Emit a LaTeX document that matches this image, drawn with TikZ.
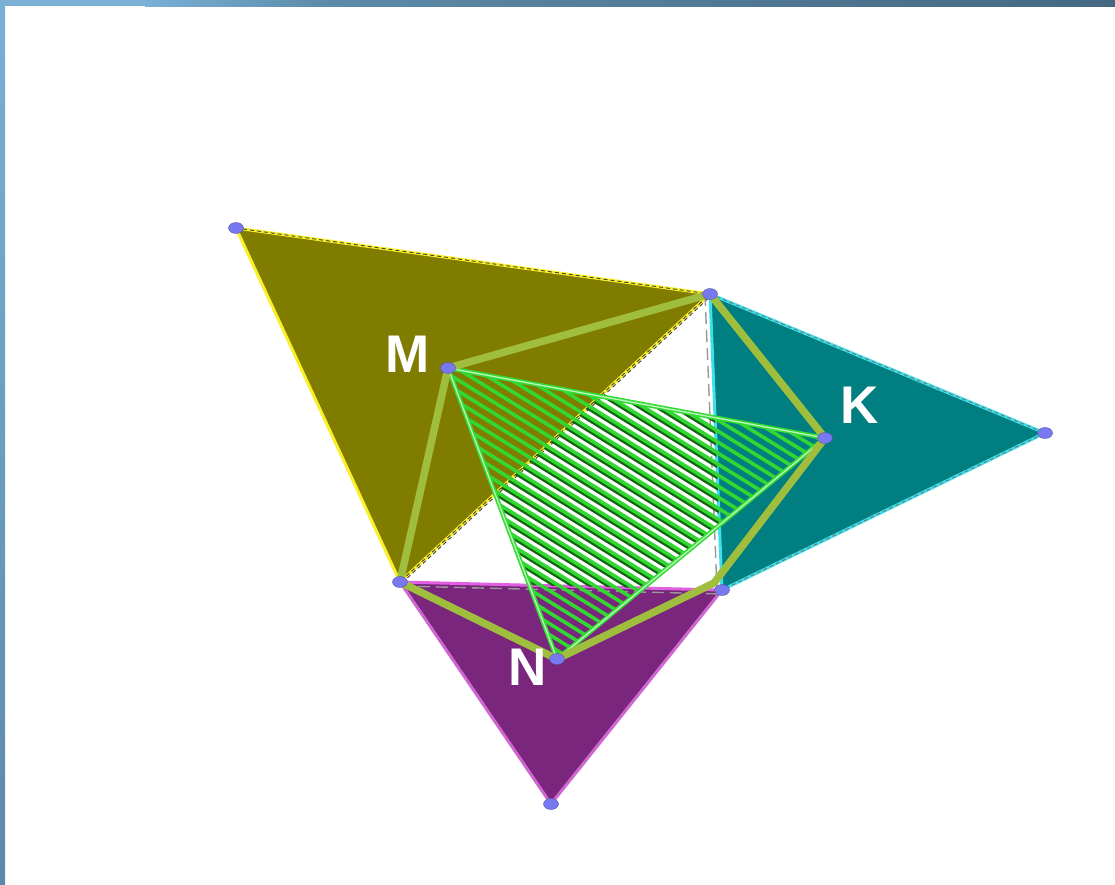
\documentclass[tikz,border=0pt]{standalone}
\usepackage{fontspec}
\setmainfont{Liberation Sans}
\definecolor{olivefill}{RGB}{128,124,0}
\definecolor{tealfill}{RGB}{0,126,128}
\definecolor{purplefill}{RGB}{122,38,125}
\definecolor{yedge}{RGB}{250,240,40}
\definecolor{cedge}{RGB}{60,225,235}
\definecolor{pedge}{RGB}{225,95,225}
\definecolor{hexcol}{RGB}{160,190,62}
\definecolor{hatchcol}{RGB}{50,215,50}
\definecolor{hatchdark}{RGB}{20,100,20}
\definecolor{trigreen}{RGB}{50,220,50}
\definecolor{dotcol}{RGB}{120,120,240}
\definecolor{barlight}{RGB}{122,176,214}
\definecolor{barmid}{RGB}{92,138,168}
\definecolor{bardark}{RGB}{68,104,130}
\begin{document}
\begin{tikzpicture}[x=1pt,y=-1pt,
  tedge/.style={line width=3pt,line join=round},
  dashover/.style={line width=0.9pt,dash pattern=on 4pt off 3pt,black!75},
  hexline/.style={hexcol,line width=7.5pt,line join=round,line cap=round},
  hatchline/.style={hatchcol,line width=3.6pt},
  hatchshade/.style={hatchdark,line width=5pt},
  triline/.style={draw=trigreen,line width=1.6pt,double=white!70!trigreen,double distance=1.3pt,line join=round},
  vdot/.style={fill=dotcol,draw=dotcol!70!black,line width=0.4pt},
  lbl/.style={white,font=\fontsize{53}{53}\selectfont\bfseries,inner sep=0pt}]
\useasboundingbox (0,0) rectangle (1115,884);
\fill[white] (0,0) rectangle (1115,884);
% frame bars
\fill[barlight] (0,0) rectangle (145,6);
\shade[left color=barlight,right color=barmid] (145,0) rectangle (330,6);
\shade[left color=barmid,right color=bardark] (330,0) rectangle (1115,6);
\shade[top color=barlight,bottom color=barmid] (0,0) rectangle (5,884);
% points
\coordinate (A) at (236,228);
\coordinate (B) at (710,294);
\coordinate (C) at (400,582);
\coordinate (D) at (722,590);
\coordinate (E) at (1045,433);
\coordinate (F) at (551,804);
\coordinate (M) at (448,368);
\coordinate (K) at (825,438);
\coordinate (N) at (557,659);
\coordinate (H) at (714,583);
% triangles
\fill[olivefill] (A)--(B)--(C)--cycle;
\fill[tealfill] (B)--(E)--(D)--cycle;
\fill[purplefill] (C)--(D)--(F)--cycle;
\draw[tedge,yedge] (A)--(B)--(C)--cycle;
\draw[dashover] (A)--(B)--(C);
\draw[dashover] ([xshift=3pt]B)--([xshift=3pt]C);
\draw[tedge,cedge] (B)--(E)--(D)--cycle;
\draw[dashover,black!55] (B)--(E)--(D);
\draw[dashover,black!40,dash pattern=on 12pt off 6pt,line width=1.4pt] ([xshift=-5pt]B)--([xshift=-5pt]D);
\draw[tedge,pedge] (C)--(D)--(F)--cycle;
\draw[dashover,black!45] (D)--(F)--(C);
\draw[dashover,black!40,dash pattern=on 12pt off 6pt,line width=1.4pt] ([yshift=-4pt]C)--([yshift=-4pt]D);
% hatching of MKN
\begin{scope}
\clip (M)--(K)--(N)--cycle;
\begin{scope}
\clip (B)--(C)--(D)--cycle;
\foreach \c in {-80,-69,...,330} \draw[hatchshade] (300,{0.62*300+\c+1.8}) -- (900,{0.62*900+\c+1.8});
\end{scope}
\foreach \c in {-80,-69,...,330} \draw[hatchline] (300,{0.62*300+\c}) -- (900,{0.62*900+\c});
\end{scope}
\draw[triline] (M)--(K)--(N)--cycle;
% hexagon
\draw[hexline] (M)--(B)--(K)--(H)--(N)--(C)--cycle;
% dots
\foreach \p in {A,B,C,D,E,F,M,K,N} \fill[vdot] (\p) ellipse [x radius=7.5pt,y radius=5.5pt];
% labels
\node[lbl] (lM) at (408,354) {M};
\node[lbl] (lK) at (860,405) {K};
\node[lbl] (lN) at (528,667) {N};
\end{tikzpicture}
\end{document}
